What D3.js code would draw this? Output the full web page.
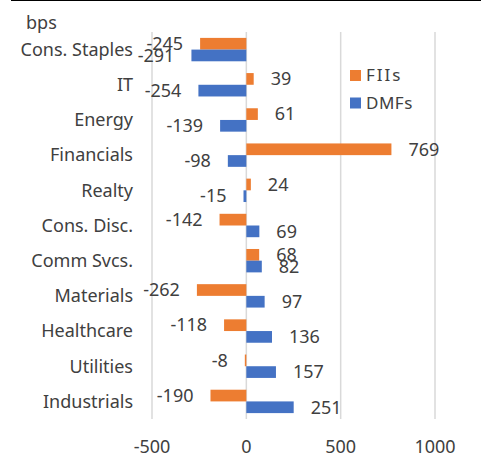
<!DOCTYPE html>
<html>
<head>
<meta charset="utf-8">
<script src="https://cdn.jsdelivr.net/npm/d3@7"></script>
<style>
  html, body { margin: 0; padding: 0; background: #fff; }
  svg { display: block; }
</style>
</head>
<body>
<svg id="chart" width="481" height="465"></svg>
<script>
// sectors, top to bottom
const categories = ['Cons. Staples', 'IT', 'Energy', 'Financials', 'Realty', 'Cons. Disc.',
  'Comm Svcs.', 'Materials', 'Healthcare', 'Utilities', 'Industrials']
const fiis = [-245, 39, 61, 769, 24, -142, 68, -262, -118, -8, -190]
const dmfs = [-291, -254, -139, -98, -15, 69, 82, 97, 136, 157, 251]
const seriesNames = ['FIIs', 'DMFs']
const xTicks = [-500, 0, 500, 1000]

const width = 481
const height = 465
const margin = { top: 32, right: 46, bottom: 46, left: 152 }
const colors = { FIIs: '#ED7D31', DMFs: '#4472C4' }
const textColor = '#404040'
const font = "'Noto Sans', sans-serif"

const svg = d3.select('#chart')

// thin black rule along the top edge
svg.append('line')
  .attr('x1', 11).attr('x2', width)
  .attr('y1', 0.5).attr('y2', 0.5)
  .attr('stroke', '#000').attr('stroke-width', 1)

const x = d3.scaleLinear()
  .domain([-500, 1000])
  .range([margin.left, width - margin.right])

const y = d3.scaleBand()
  .domain(categories)
  .range([margin.top, height - margin.bottom])
  .paddingInner(0.335)
  .paddingOuter(0.335 / 2)

const ySub = d3.scaleBand()
  .domain(seriesNames)
  .range([0, y.bandwidth()])

// gridlines
svg.append('g')
  .attr('id', 'grid')
  .selectAll('line')
  .data(xTicks)
  .join('line')
  .attr('x1', (d) => x(d))
  .attr('x2', (d) => x(d))
  .attr('y1', margin.top)
  .attr('y2', height - margin.bottom)
  .attr('stroke', '#d9d9d9')
  .attr('stroke-width', 1.5)

// x tick labels
svg.append('g')
  .attr('id', 'xlabels')
  .selectAll('text')
  .data(xTicks)
  .join('text')
  .attr('x', (d) => x(d))
  .attr('y', 453)
  .attr('text-anchor', 'middle')
  .attr('font-family', font)
  .attr('font-size', 18)
  .attr('fill', textColor)
  .text((d) => d)

// category labels
svg.append('g')
  .attr('id', 'ylabels')
  .selectAll('text')
  .data(categories)
  .join('text')
  .attr('x', 133)
  .attr('y', (d) => y(d) + y.bandwidth() / 2)
  .attr('dy', '0.35em')
  .attr('text-anchor', 'end')
  .attr('font-family', font)
  .attr('font-size', 18)
  .attr('fill', textColor)
  .text((d) => d)

const rows = []
categories.forEach((c, i) => {
  rows.push({ cat: c, series: 'FIIs', value: fiis[i] })
  rows.push({ cat: c, series: 'DMFs', value: dmfs[i] })
})

// bars
svg.append('g')
  .attr('id', 'bars')
  .selectAll('rect')
  .data(rows)
  .join('rect')
  .attr('x', (d) => Math.min(x(0), x(d.value)))
  .attr('y', (d) => y(d.cat) + ySub(d.series))
  .attr('width', (d) => Math.abs(x(d.value) - x(0)))
  .attr('height', ySub.bandwidth())
  .attr('fill', (d) => colors[d.series])

// data labels
svg.append('g')
  .attr('id', 'values')
  .selectAll('text')
  .data(rows)
  .join('text')
  .attr('x', (d) => d.value < 0 ? x(d.value) - 17 : x(d.value) + 17)
  .attr('y', (d) => y(d.cat) + ySub(d.series) + ySub.bandwidth() / 2)
  .attr('dy', '0.35em')
  .attr('text-anchor', (d) => d.value < 0 ? 'end' : 'start')
  .attr('font-family', font)
  .attr('font-size', 18)
  .attr('fill', textColor)
  .text((d) => d.value)

// unit label
svg.append('text')
  .attr('x', 26)
  .attr('y', 29)
  .attr('font-family', font)
  .attr('font-size', 18)
  .attr('fill', textColor)
  .text('bps')

// legend
const legend = svg.append('g')
  .attr('id', 'legend')
  .attr('transform', 'translate(350,70)')
  .selectAll('g')
  .data(seriesNames)
  .join('g')
  .attr('transform', (d, i) => `translate(0,${i * 27.5})`)

legend.append('rect')
  .attr('width', 11)
  .attr('height', 11)
  .attr('fill', (d) => colors[d])

legend.append('text')
  .attr('x', 16)
  .attr('y', 5.5)
  .attr('dy', '0.35em')
  .attr('font-family', font)
  .attr('font-size', 17)
  .attr('letter-spacing', (d) => d === 'FIIs' ? 2 : 0.5)
  .attr('fill', textColor)
  .text((d) => d)
</script>
</body>
</html>
